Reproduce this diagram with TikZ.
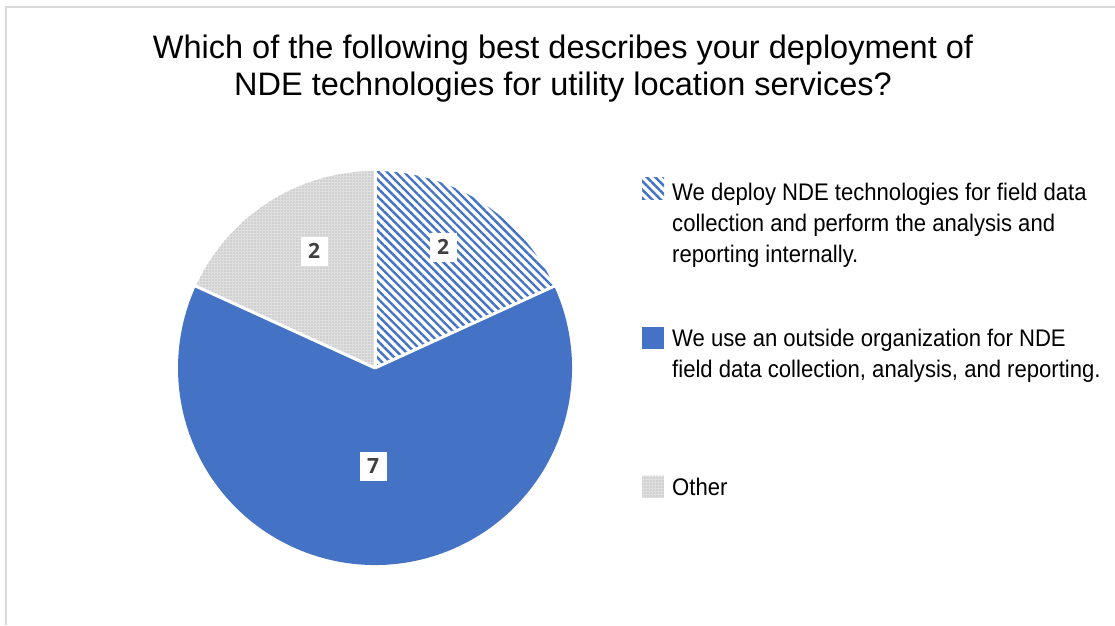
\documentclass[tikz,border=0pt]{standalone}
\usepackage{fontspec}
\setmainfont{Liberation Sans}
\newfontfamily\legendfont[FakeStretch=0.92]{Liberation Sans}
\newfontfamily\numfont{Open Sans}
\usetikzlibrary{patterns.meta}
\definecolor{pieblue}{HTML}{4472C4}
\definecolor{numgray}{HTML}{404040}
\definecolor{framegray}{HTML}{D9D9D9}

\begin{document}
\begin{tikzpicture}[x=1pt, y=-1pt]
      \tikzstyle{title}=[align=center, inner sep=0, anchor=north,
                         font=\fontsize{32.5}{37.5}\selectfont]
      \tikzstyle{legtext}=[align=left, inner sep=0, anchor=north west,
                           font=\legendfont\fontsize{24}{31}\selectfont]
      \tikzstyle{legbox}=[minimum size=22pt, inner sep=0]
      \tikzstyle{num}=[fill=white, inner sep=0, minimum width=27pt, minimum height=29pt,
                       text=numgray, font=\numfont\bfseries\fontsize{21}{21}\selectfont]
      \tikzstyle{hatch}=[pattern={Lines[angle=-45, distance=6pt, line width=2.4pt]},
                         pattern color=pieblue]
      \tikzstyle{dotted gray}=[fill=gray!25, postaction={pattern={Dots[distance=3pt, radius=0.6pt]},
                               pattern color=gray!75}]
      \tikzstyle{solid}=[fill=pieblue]
      \useasboundingbox (0,0) rectangle (1115,625);

      % frame
      \draw[framegray, line width=1.5pt] (6,625) -- (6,7) -- (1115,7);

      % title
      \node[title] (question) at (563,34.5)
        {Which of the following best describes your deployment of\\
         NDE technologies for utility location services?};

      % pie: 2 / 7 / 2 of 11
      \coordinate (centre) at (375,368);
      \fill[hatch] (centre) -- ++(-90:197) arc[start angle=-90, end angle=-24.55, radius=197] -- cycle;
      \fill[solid] (centre) -- ++(-24.55:197) arc[start angle=-24.55, end angle=204.55, radius=197] -- cycle;
      \fill[dotted gray] (centre) -- ++(204.55:197) arc[start angle=204.55, end angle=270, radius=197] -- cycle;
      \foreach \ang in {-90, -24.55, 204.55} {%
        \draw[white, line width=3pt] (centre) -- ++(\ang:198);
      }

      \node[num] (ninternal) at (443,247) {2};
      \node[num] (noutside) at (373,466) {7};
      \node[num] (nother) at (314,251) {2};

      % legend
      \node[legbox, hatch] (kinternal) at (653,188) {};
      \node[legbox, solid] (koutside) at (653,338) {};
      \node[legbox, dotted gray] (kother) at (653,486.5) {};

      \node[legtext] (linternal) at (672,182.5)
        {We deploy NDE technologies for field data\\
         collection and perform the analysis and\\
         reporting internally.};
      \node[legtext] (loutside) at (672,328.5)
        {We use an outside organization for NDE\\
         field data collection, analysis, and reporting.};
      \node[legtext] (lother) at (672,477.5) {Other};
    \end{tikzpicture}
\end{document}
